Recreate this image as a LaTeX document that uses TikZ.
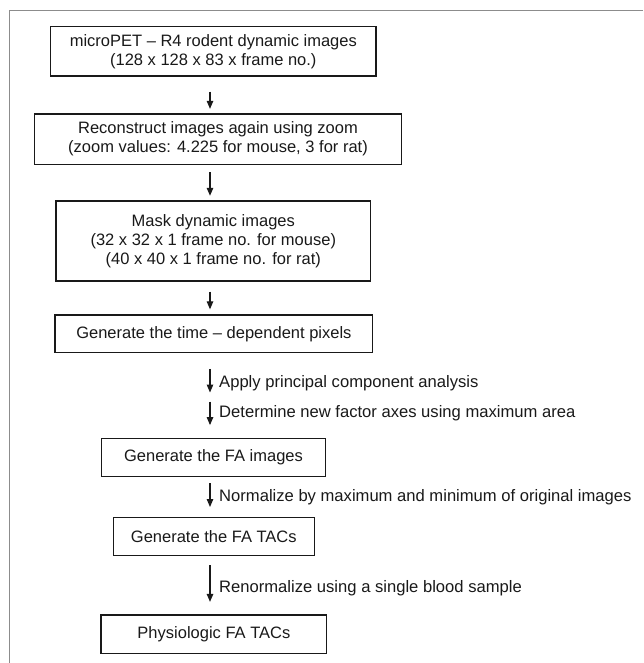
\documentclass[tikz,border=0pt]{standalone}
\usepackage{fontspec}
\setmainfont{Liberation Sans}
\usetikzlibrary{arrows.meta}
\begin{document}
\begin{tikzpicture}[x=1pt,y=-1pt,
  box/.style={draw=black!90, line width=1.4pt, inner sep=0pt, align=center,
    font=\fontsize{16.5}{19}\selectfont, text=black!90},
  arr/.style={draw=black!90, line width=1.2pt, -{Triangle[length=8pt,width=6.5pt]}},
  lab/.style={anchor=base west, inner sep=0pt, font=\fontsize{16.6}{19}\selectfont, text=black!90}]
\useasboundingbox (0,0) rectangle (643,663);
\draw[black!45, line width=0.9pt] (9,663) -- (9,10) -- (643,10);

\node[box, minimum width=325.3pt, minimum height=49.3pt] (b1) at (213.3,51.3)
  {microPET – R4 rodent dynamic images\\(128 x 128 x 83 x frame no.)};
\node[box, minimum width=367.4pt, minimum height=50.3pt] (b2) at (218,139.2)
  {Reconstruct images again using zoom\\(zoom values: 4.225 for mouse, 3 for rat)};
\node[box, minimum width=314.7pt, minimum height=80pt] (b3) at (213.3,241)
  {Mask dynamic images\\(32 x 32 x 1 frame no. for mouse)\\(40 x 40 x 1 frame no. for rat)};
\node[box, minimum width=317.7pt, minimum height=37.7pt] (b4) at (213.9,333.9)
  {Generate the time – dependent pixels};
\node[box, minimum width=223.6pt, minimum height=38.4pt] (b5) at (213.5,457.5)
  {Generate the FA images};
\node[box, minimum width=201pt, minimum height=38pt] (b6) at (213.8,536.7)
  {Generate the FA TACs};
\node[box, minimum width=225.7pt, minimum height=38.3pt] (b7) at (213.9,634.2)
  {Physiologic FA TACs};

\coordinate (m45) at (210,397);

\draw[arr, shorten <=15pt, shorten >=4.5pt] (210,0 |- b1.south) -- (210,0 |- b2.north);
\draw[arr, shorten <=7pt, shorten >=4.5pt] (210,0 |- b2.south) -- (210,0 |- b3.north);
\draw[arr, shorten <=10pt, shorten >=5pt] (210,0 |- b3.south) -- (210,0 |- b4.north);
\draw[arr, shorten <=15.5pt, shorten >=4.5pt] (210,0 |- b4.south) -- (m45);
\draw[arr, shorten <=4.5pt, shorten >=12.5pt] (m45) -- (210,0 |- b5.north);
\draw[arr, shorten <=6pt, shorten >=10pt] (210,0 |- b5.south) -- (210,0 |- b6.north);
\draw[arr, shorten <=9pt, shorten >=12.5pt] (210,0 |- b6.south) -- (210,0 |- b7.north);

\node[lab] (l1) at (219,387.5) {Apply principal component analysis};
\node[lab] (l2) at (219,417.5) {Determine new factor axes using maximum area};
\node[lab] (l3) at (219,501.5) {Normalize by maximum and minimum of original images};
\node[lab] (l4) at (219,592.5) {Renormalize using a single blood sample};
\end{tikzpicture}
\end{document}
